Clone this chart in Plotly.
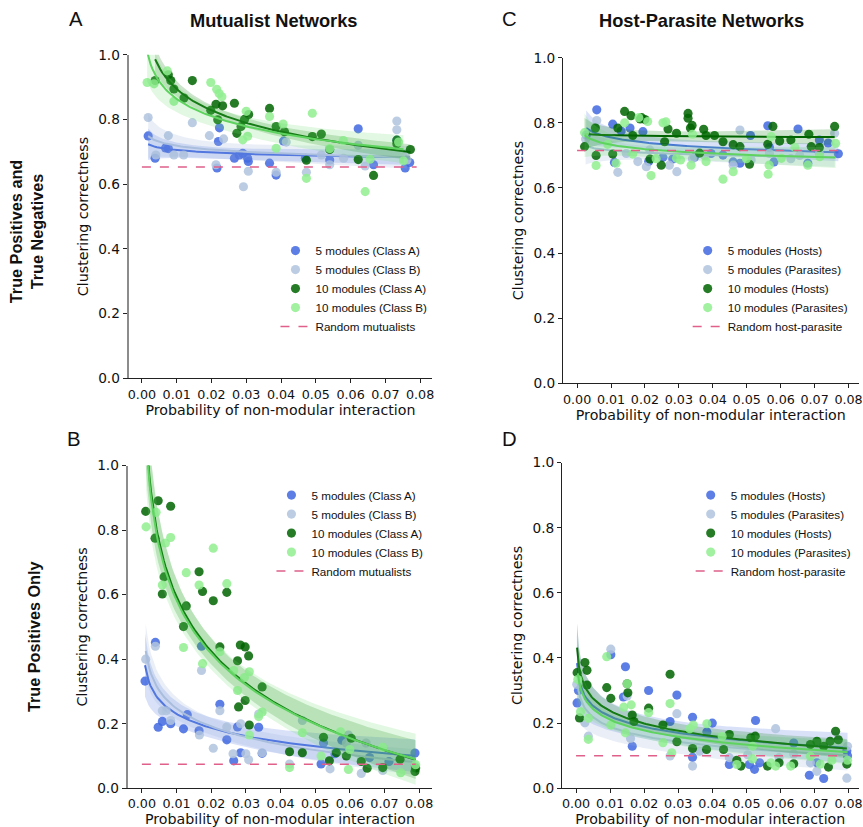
import numpy as np
import plotly.graph_objects as go

# Figure canvas (slightly larger than the window; the capture shrinks it a little)
WF, HF = 880, 845
KX, KY, CX, CY = 0.989, 0.979, 3.0, 8.4   # measured window->picture mapping
S = 1.0 / 0.985                          # font compensation

# ---------------- Panel A (Mutualist, TP+TN) ----------------
A5A_x = [0.0018, 0.0038, 0.0068, 0.0076, 0.0216, 0.0220, 0.0223, 0.0266, 0.0280, 0.0290, 0.0304, 0.0306, 0.0367, 0.0386, 0.0407, 0.0470, 0.0540, 0.0622, 0.0666, 0.0733, 0.0757, 0.0770]
A5A_y = [0.749, 0.680, 0.712, 0.710, 0.650, 0.732, 0.774, 0.680, 0.690, 0.695, 0.680, 0.670, 0.665, 0.628, 0.733, 0.680, 0.675, 0.771, 0.660, 0.736, 0.650, 0.667]
A5B_x = [0.0018, 0.0040, 0.0076, 0.0092, 0.0120, 0.0145, 0.0194, 0.0213, 0.0235, 0.0292, 0.0306, 0.0386, 0.0415, 0.0473, 0.0516, 0.0540, 0.0580, 0.0622, 0.0642, 0.0733, 0.0733, 0.0762]
A5B_y = [0.806, 0.690, 0.750, 0.690, 0.690, 0.790, 0.750, 0.660, 0.740, 0.592, 0.640, 0.637, 0.730, 0.637, 0.690, 0.660, 0.680, 0.720, 0.656, 0.795, 0.768, 0.675]
A10A_x = [0.0038, 0.0076, 0.0083, 0.0092, 0.0121, 0.0145, 0.0198, 0.0213, 0.0218, 0.0232, 0.0266, 0.0273, 0.0285, 0.0295, 0.0307, 0.0367, 0.0386, 0.0410, 0.0473, 0.0490, 0.0516, 0.0540, 0.0622, 0.0666, 0.0733, 0.0733, 0.0772]
A10A_y = [0.920, 0.938, 0.920, 0.894, 0.866, 0.920, 0.828, 0.847, 0.799, 0.842, 0.850, 0.757, 0.778, 0.800, 0.815, 0.834, 0.778, 0.762, 0.674, 0.747, 0.755, 0.707, 0.676, 0.627, 0.736, 0.725, 0.707]
A10B_x = [0.0015, 0.0035, 0.0073, 0.0092, 0.0198, 0.0215, 0.0222, 0.0230, 0.0290, 0.0300, 0.0304, 0.0367, 0.0386, 0.0406, 0.0473, 0.0490, 0.0540, 0.0579, 0.0642, 0.0656, 0.0738, 0.0752]
A10B_y = [0.914, 0.910, 0.950, 0.856, 0.914, 0.893, 0.880, 0.870, 0.737, 0.825, 0.748, 0.809, 0.711, 0.786, 0.618, 0.819, 0.710, 0.735, 0.577, 0.677, 0.730, 0.672]
A_random = 0.653

# ---------------- Panel B (Mutualist, TP only) ----------------
B5A_x = [0.0009, 0.0039, 0.0047, 0.0059, 0.0083, 0.0120, 0.0131, 0.0165, 0.0172, 0.0225, 0.0245, 0.0265, 0.0276, 0.0285, 0.0337, 0.0347, 0.0517, 0.0524, 0.0557, 0.0577, 0.0657, 0.0713, 0.0788]
B5A_y = [0.332, 0.452, 0.189, 0.207, 0.200, 0.184, 0.228, 0.178, 0.440, 0.260, 0.150, 0.085, 0.190, 0.110, 0.189, 0.108, 0.075, 0.140, 0.107, 0.149, 0.095, 0.083, 0.109]
B5B_x = [0.0011, 0.0039, 0.0059, 0.0070, 0.0083, 0.0166, 0.0172, 0.0206, 0.0225, 0.0245, 0.0263, 0.0285, 0.0300, 0.0308, 0.0337, 0.0347, 0.0426, 0.0463, 0.0543, 0.0590, 0.0596, 0.0633, 0.0647, 0.0695, 0.0788]
B5B_y = [0.400, 0.440, 0.240, 0.240, 0.210, 0.165, 0.365, 0.124, 0.240, 0.190, 0.107, 0.200, 0.107, 0.088, 0.230, 0.110, 0.075, 0.210, 0.060, 0.140, 0.165, 0.046, 0.140, 0.055, 0.070]
B10A_x = [0.0011, 0.0038, 0.0047, 0.0059, 0.0064, 0.0083, 0.0120, 0.0128, 0.0165, 0.0175, 0.0206, 0.0225, 0.0245, 0.0276, 0.0279, 0.0284, 0.0298, 0.0298, 0.0308, 0.0310, 0.0347, 0.0426, 0.0463, 0.0524, 0.0541, 0.0561, 0.0590, 0.0604, 0.0633, 0.0650, 0.0695, 0.0745, 0.0788, 0.0790]
B10A_y = [0.858, 0.775, 0.891, 0.602, 0.655, 0.874, 0.501, 0.565, 0.671, 0.610, 0.581, 0.438, 0.607, 0.395, 0.252, 0.444, 0.438, 0.272, 0.410, 0.196, 0.314, 0.113, 0.110, 0.158, 0.085, 0.110, 0.100, 0.155, 0.083, 0.062, 0.064, 0.090, 0.052, 0.063]
B10B_x = [0.0012, 0.0041, 0.0059, 0.0068, 0.0083, 0.0120, 0.0128, 0.0165, 0.0175, 0.0206, 0.0225, 0.0245, 0.0265, 0.0276, 0.0296, 0.0310, 0.0310, 0.0337, 0.0347, 0.0426, 0.0463, 0.0517, 0.0573, 0.0596, 0.0600, 0.0695, 0.0747, 0.0790]
B10B_y = [0.810, 0.855, 0.630, 0.760, 0.777, 0.436, 0.668, 0.630, 0.386, 0.744, 0.423, 0.634, 0.365, 0.303, 0.343, 0.361, 0.165, 0.222, 0.236, 0.064, 0.172, 0.100, 0.175, 0.058, 0.120, 0.127, 0.048, 0.073]
B_random = 0.074

# ---------------- Panel C (Host-parasite, TP+TN) ----------------
C5A_x = [0.0027, 0.0058, 0.0105, 0.0110, 0.0130, 0.0156, 0.0194, 0.0211, 0.0253, 0.0282, 0.0346, 0.0395, 0.0430, 0.0460, 0.0480, 0.0511, 0.0562, 0.0567, 0.0580, 0.0651, 0.0680, 0.0714, 0.0740, 0.0770]
C5A_y = [0.763, 0.840, 0.796, 0.678, 0.775, 0.784, 0.773, 0.681, 0.694, 0.689, 0.694, 0.706, 0.701, 0.680, 0.676, 0.761, 0.791, 0.724, 0.680, 0.781, 0.676, 0.747, 0.738, 0.705]
C5B_x = [0.0025, 0.0058, 0.0120, 0.0145, 0.0179, 0.0204, 0.0214, 0.0272, 0.0294, 0.0340, 0.0376, 0.0460, 0.0480, 0.0513, 0.0567, 0.0630, 0.0656, 0.0714, 0.0759]
C5B_y = [0.750, 0.807, 0.648, 0.706, 0.681, 0.665, 0.717, 0.670, 0.650, 0.690, 0.700, 0.670, 0.778, 0.686, 0.706, 0.690, 0.700, 0.706, 0.768]
C10A_x = [0.0022, 0.0054, 0.0056, 0.0105, 0.0120, 0.0140, 0.0159, 0.0164, 0.0186, 0.0190, 0.0200, 0.0215, 0.0248, 0.0258, 0.0268, 0.0293, 0.0327, 0.0327, 0.0334, 0.0339, 0.0361, 0.0373, 0.0380, 0.0405, 0.0430, 0.0460, 0.0480, 0.0508, 0.0562, 0.0577, 0.0597, 0.0630, 0.0683, 0.0690, 0.0714, 0.0759]
C10A_y = [0.727, 0.784, 0.700, 0.704, 0.784, 0.835, 0.822, 0.761, 0.812, 0.816, 0.810, 0.689, 0.670, 0.742, 0.781, 0.768, 0.829, 0.814, 0.784, 0.792, 0.707, 0.780, 0.761, 0.761, 0.742, 0.733, 0.727, 0.673, 0.734, 0.789, 0.744, 0.747, 0.765, 0.727, 0.724, 0.789]
C10B_x = [0.0022, 0.0056, 0.0090, 0.0115, 0.0140, 0.0164, 0.0182, 0.0208, 0.0218, 0.0233, 0.0253, 0.0262, 0.0293, 0.0305, 0.0336, 0.0340, 0.0380, 0.0430, 0.0460, 0.0499, 0.0563, 0.0566, 0.0572, 0.0602, 0.0642, 0.0680, 0.0715, 0.0762]
C10B_y = [0.770, 0.669, 0.734, 0.676, 0.800, 0.704, 0.816, 0.804, 0.638, 0.690, 0.800, 0.803, 0.691, 0.686, 0.670, 0.765, 0.681, 0.627, 0.650, 0.690, 0.642, 0.670, 0.758, 0.691, 0.724, 0.670, 0.696, 0.737]
C_random = 0.715

# ---------------- Panel D (Host-parasite, TP only) ----------------
D5A_x = [0.0003, 0.0007, 0.0102, 0.0139, 0.0145, 0.0165, 0.0213, 0.0276, 0.0296, 0.0342, 0.0342, 0.0384, 0.0400, 0.0450, 0.0509, 0.0524, 0.0527, 0.0539, 0.0639, 0.0685, 0.0707, 0.0727, 0.0795, 0.0797]
D5A_y = [0.262, 0.300, 0.410, 0.280, 0.373, 0.129, 0.300, 0.205, 0.286, 0.218, 0.095, 0.173, 0.200, 0.073, 0.073, 0.058, 0.208, 0.078, 0.139, 0.040, 0.078, 0.030, 0.115, 0.100]
D5B_x = [0.0002, 0.0026, 0.0036, 0.0102, 0.0150, 0.0160, 0.0276, 0.0296, 0.0342, 0.0363, 0.0450, 0.0504, 0.0586, 0.0596, 0.0639, 0.0688, 0.0707, 0.0795, 0.0797]
D5B_y = [0.319, 0.201, 0.160, 0.427, 0.283, 0.153, 0.099, 0.229, 0.068, 0.114, 0.094, 0.103, 0.183, 0.094, 0.105, 0.078, 0.052, 0.031, 0.129]
D10A_x = [0.0003, 0.0010, 0.0026, 0.0032, 0.0032, 0.0090, 0.0102, 0.0150, 0.0152, 0.0165, 0.0170, 0.0213, 0.0255, 0.0276, 0.0296, 0.0342, 0.0383, 0.0433, 0.0450, 0.0472, 0.0484, 0.0513, 0.0526, 0.0562, 0.0596, 0.0639, 0.0688, 0.0707, 0.0727, 0.0741, 0.0746, 0.0762, 0.0770, 0.0795]
D10A_y = [0.355, 0.216, 0.386, 0.362, 0.317, 0.309, 0.276, 0.321, 0.293, 0.225, 0.205, 0.246, 0.194, 0.350, 0.143, 0.122, 0.119, 0.119, 0.165, 0.086, 0.068, 0.155, 0.160, 0.068, 0.078, 0.075, 0.134, 0.144, 0.129, 0.065, 0.144, 0.175, 0.149, 0.074]
D10B_x = [0.0005, 0.0013, 0.0036, 0.0036, 0.0090, 0.0102, 0.0140, 0.0145, 0.0150, 0.0162, 0.0213, 0.0255, 0.0276, 0.0281, 0.0334, 0.0344, 0.0384, 0.0429, 0.0472, 0.0518, 0.0518, 0.0572, 0.0586, 0.0630, 0.0688, 0.0717, 0.0751, 0.0797]
D10B_y = [0.334, 0.235, 0.215, 0.150, 0.404, 0.194, 0.249, 0.170, 0.321, 0.256, 0.232, 0.140, 0.260, 0.109, 0.183, 0.194, 0.198, 0.159, 0.073, 0.129, 0.090, 0.078, 0.068, 0.068, 0.098, 0.074, 0.086, 0.086]
D_random = 0.100

X_TICKS = [0.00, 0.01, 0.02, 0.03, 0.04, 0.05, 0.06, 0.07, 0.08]
Y_TICKS = [0.0, 0.2, 0.4, 0.6, 0.8, 1.0]
MUT_NAMES = ["5 modules (Class A)", "5 modules (Class B)", "10 modules (Class A)", "10 modules (Class B)"]
HP_NAMES = ["5 modules (Hosts)", "5 modules (Parasites)", "10 modules (Hosts)", "10 modules (Parasites)"]

PT_COLORS = ["#4169E1", "#B0C4DE", "#006400", "#90EE90"]
LN_COLORS = ["#4169E1", "#A9BDDD", "#006400", "#5fd35f"]
BAND_RGB = ["65,105,225", "150,175,215", "0,120,0", "110,220,110"]
RANDOM_COLOR = "#e0608a"


def logfit(x, y):
    x = np.asarray(x, float); y = np.asarray(y, float)
    lx = np.log(x)
    b, a = np.polyfit(lx, y, 1)
    xs = np.linspace(x.min(), x.max(), 150)
    lxs = np.log(xs)
    pred = a + b * lxs
    n = len(x)
    resid = y - (a + b * lx)
    s = np.sqrt(np.sum(resid ** 2) / (n - 2))
    sxx = np.sum((lx - lx.mean()) ** 2)
    se = s * np.sqrt(1.0 / n + (lxs - lx.mean()) ** 2 / sxx)
    return xs, pred, pred - 1.96 * se, pred + 1.96 * se


def px_x(p):   # target picture pixel -> paper fraction
    return ((p - CX) / KX) / WF


def px_y(p):
    return 1 - ((p - CY) / KY) / HF


fig = go.Figure()

panels = [
    ("", "legend", [(A5A_x, A5A_y), (A5B_x, A5B_y), (A10A_x, A10A_y), (A10B_x, A10B_y)], MUT_NAMES, A_random, "Random mutualists"),
    ("2", "legend2", [(C5A_x, C5A_y), (C5B_x, C5B_y), (C10A_x, C10A_y), (C10B_x, C10B_y)], HP_NAMES, C_random, "Random host-parasite"),
    ("3", "legend3", [(B5A_x, B5A_y), (B5B_x, B5B_y), (B10A_x, B10A_y), (B10B_x, B10B_y)], MUT_NAMES, B_random, "Random mutualists"),
    ("4", "legend4", [(D5A_x, D5A_y), (D5B_x, D5B_y), (D10A_x, D10A_y), (D10B_x, D10B_y)], HP_NAMES, D_random, "Random host-parasite"),
]

for suf, leg, series, names, rnd, rlabel in panels:
    xa, ya = "x" + suf, "y" + suf
    for i, ((sx, sy), nm) in enumerate(zip(series, names)):
        fig.add_trace(go.Scatter(
            x=sx, y=sy, mode="markers", name=nm, legend=leg,
            marker=dict(color=PT_COLORS[i], size=9 * S, opacity=0.85, line=dict(width=0)),
            xaxis=xa, yaxis=ya, hoverinfo="x+y"))
        xs, pred, lo, hi = logfit(sx, sy)
        fig.add_trace(go.Scatter(
            x=np.concatenate([xs, xs[::-1]]), y=np.concatenate([hi, lo[::-1]]),
            fill="toself", fillcolor="rgba(%s,0.2)" % BAND_RGB[i], line=dict(width=0),
            mode="lines", showlegend=False, hoverinfo="skip", xaxis=xa, yaxis=ya))
        fig.add_trace(go.Scatter(
            x=xs, y=pred, mode="lines", line=dict(color=LN_COLORS[i], width=2),
            showlegend=False, hoverinfo="skip", xaxis=xa, yaxis=ya))
    fig.add_trace(go.Scatter(
        x=[X_TICKS[0], 0.079], y=[rnd, rnd], mode="lines", name=rlabel, legend=leg,
        line=dict(color=RANDOM_COLOR, width=1.5, dash="dash"), xaxis=xa, yaxis=ya))

# plotting-area boxes in target picture pixels
boxes = {
    "": dict(x0=130, x1=432, y0=55, y1=378, xr=[-0.0038, 0.0835], spine="#8c8c8c", sw=2),
    "2": dict(x0=562, x1=856, y0=58, y1=383, xr=[-0.00415, 0.08296], spine="#222", sw=1),
    "3": dict(x0=129, x1=432, y0=465, y1=787, xr=[-0.0041, 0.0838], spine="#8c8c8c", sw=2),
    "4": dict(x0=561, x1=856, y0=462, y1=787, xr=[-0.00413, 0.08295], spine="#222", sw=1),
}

layout = dict(
    width=WF, height=HF, margin=dict(l=0, r=0, t=0, b=0), autosize=False,
    paper_bgcolor="white", plot_bgcolor="white",
    font=dict(family="DejaVu Sans", color="#111"),
)
for suf, b in boxes.items():
    layout["xaxis" + suf] = dict(
        domain=[px_x(b["x0"]), px_x(b["x1"])], range=b["xr"], anchor="y" + suf,
        tickvals=X_TICKS, ticktext=["%.2f" % v for v in X_TICKS], ticklabeloverflow="allow",
        showline=True, linecolor="#222", linewidth=1, ticks="outside", ticklen=4,
        tickcolor="#222", showgrid=False, zeroline=False,
        tickfont=dict(family="DejaVu Sans", size=12.5 * S, color="#111"),
        title=dict(text="Probability of non-modular interaction", standoff=3,
                   font=dict(family="DejaVu Sans", size=14 * S, color="#111")))
    layout["yaxis" + suf] = dict(
        domain=[px_y(b["y1"]), px_y(b["y0"])], range=[0, 1], anchor="x" + suf,
        tickvals=Y_TICKS, ticktext=["%.1f" % v for v in Y_TICKS],
        showline=True, linecolor=b["spine"], linewidth=b["sw"], ticks="outside", ticklen=4,
        tickcolor="#222", showgrid=False, zeroline=False,
        tickfont=dict(family="DejaVu Sans", size=13.5 * S, color="#111"),
        title=dict(text="Clustering correctness", standoff=6,
                   font=dict(family="DejaVu Sans", size=14 * S, color="#111")))

leg_common = dict(bgcolor="rgba(0,0,0,0)", font=dict(family="Liberation Sans", size=11.5 * S, color="#111"),
                  itemwidth=30, xanchor="left", yanchor="top", tracegroupgap=0)
layout["legend"] = dict(leg_common, x=px_x(276), y=px_y(236))
layout["legend2"] = dict(leg_common, x=px_x(686), y=px_y(236))
layout["legend3"] = dict(leg_common, x=px_x(272), y=px_y(480))
layout["legend4"] = dict(leg_common, x=px_x(689), y=px_y(480))

ann = []
def txt(x, y, s, size, bold=False, angle=0, family="Liberation Sans"):
    ann.append(dict(x=px_x(x), y=px_y(y), xref="paper", yref="paper", text=("<b>%s</b>" % s) if bold else s,
                    showarrow=False, textangle=angle, xanchor="center", yanchor="middle",
                    font=dict(family=family, size=size * S, color="#111")))

txt(78, 19, "A", 20)
txt(509, 19, "C", 20)
txt(76, 438, "B", 20)
txt(509, 438, "D", 20)
txt(274, 21, "Mutualist Networks", 18, bold=True)
txt(700, 21, "Host-Parasite Networks", 18, bold=True)
txt(28, 232, "True Positives and<br>True Negatives", 16, bold=True, angle=-90)
txt(36, 636, "True Positives Only", 16, bold=True, angle=-90)
layout["annotations"] = ann

fig.update_layout(**layout)

PIN = ("var gd=document.getElementById('{plot_id}');"
       "document.documentElement.style.margin='0';document.documentElement.style.padding='0';"
       "document.body.style.margin='0';document.body.style.padding='0';"
       "gd.style.position='fixed';gd.style.left='0px';gd.style.top='0px';gd.style.zIndex='10';"
       "document.documentElement.style.overflow='hidden';document.body.style.overflow='hidden';")
fig.write_html("out.html", config={"displayModeBar": False}, post_script=PIN)
